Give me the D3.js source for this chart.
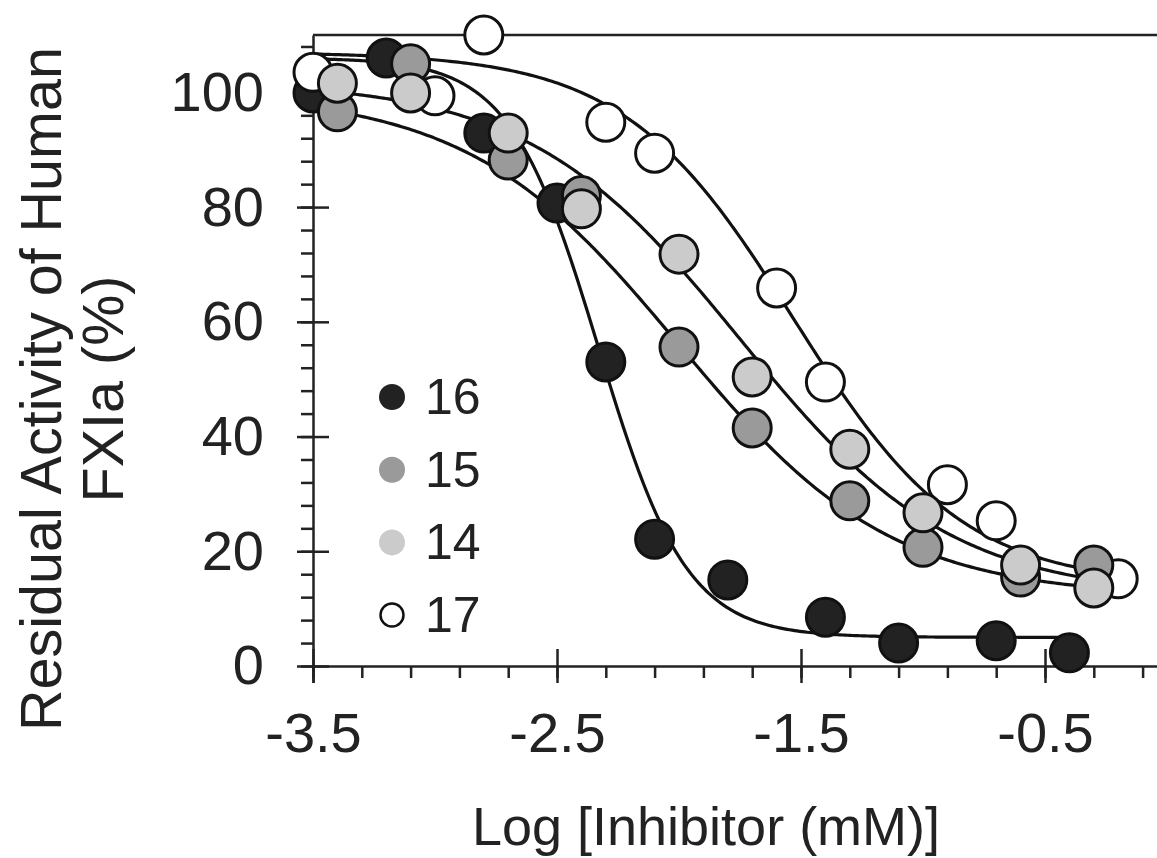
<!DOCTYPE html>
<html><head><meta charset="utf-8">
<script src="https://cdn.jsdelivr.net/npm/d3@7/dist/d3.min.js"></script>
<style>
html,body{margin:0;padding:0;background:#fff;}
svg{display:block;font-family:"Liberation Sans",Arial,Helvetica,sans-serif;}
</style></head>
<body>
<svg id="chart" width="1157" height="858"></svg>
<script>
// ---- data ----
const seriesNames = ["16", "15", "14", "17"];
const x16 = [-3.5, -3.2, -2.8, -2.5, -2.3, -2.1, -1.8, -1.4, -1.1, -0.7, -0.4];
const y16 = [99.9, 106, 92.9, 80.7, 53, 22.1, 15, 8.5, 4.0, 4.4, 2.3];
const x15 = [-3.4, -3.1, -2.7, -2.4, -2.0, -1.7, -1.3, -1.0, -0.6, -0.3];
const y15 = [96.6, 105, 88.2, 82, 55.6, 41.5, 28.8, 20.7, 15.5, 17.6];
const x14 = [-3.4, -3.1, -2.7, -2.4, -2.0, -1.7, -1.3, -1.0, -0.6, -0.3];
const y14 = [101.6, 99.9, 92.9, 79.7, 71.8, 50.4, 37.8, 26.7, 17.6, 13.6];
const x17 = [-3.5, -3.0, -2.8, -2.3, -2.1, -1.6, -1.4, -0.9, -0.7, -0.2];
const y17 = [103.5, 99.4, 110, 94.8, 89.4, 65.9, 49.5, 31.6, 25.3, 15.2];
// fitted logistic curves: [top, bottom, logIC50, hill]
const fit16 = [106, 5, -2.33, 2.4];
const fit15 = [100, 12, -2.0, 1.0];
const fit14 = [102, 12, -1.75, 1.0];
const fit17 = [107, 14, -1.53, 1.25];
const xTickLabels = [-3.5, -2.5, -1.5, -0.5];
const yTickLabels = [0, 20, 40, 60, 80, 100];
const xTitle = "Log [Inhibitor (mM)]";
const yTitle = ["Residual Activity of Human", "FXIa (%)"];

// ---- styles ----
const fills = {"16": "#222222", "15": "#9a9a9a", "14": "#cbcbcb", "17": "#ffffff"};
const svg = d3.select("#chart");
const x = d3.scaleLinear().domain([-3.5, 0]).range([313, 1167]);
const y = d3.scaleLinear().domain([0, 110]).range([666, 35]);
const ink = "#222";

const series = [
  {name: "16", xs: x16, ys: y16, fit: fit16},
  {name: "15", xs: x15, ys: y15, fit: fit15},
  {name: "14", xs: x14, ys: y14, fit: fit14},
  {name: "17", xs: x17, ys: y17, fit: fit17}
];

// frame top line
svg.append("line").attr("x1", x(-3.5)).attr("x2", x(0)).attr("y1", y(110)).attr("y2", y(110))
  .attr("stroke", ink).attr("stroke-width", 2.5);

// minor ticks
const xMinor = d3.range(0, 18).map(i => +(-3.5 + i * 0.2).toFixed(2));
const yMinor = d3.range(0, 28).map(i => i * 4);
const gxMinor = svg.append("g").attr("transform", `translate(0,${y(0)})`)
  .call(d3.axisBottom(x).tickValues(xMinor).tickSize(12).tickSizeOuter(0).tickFormat(""));
const gyMinor = svg.append("g").attr("transform", `translate(${x(-3.5)},0)`)
  .call(d3.axisLeft(y).tickValues(yMinor).tickSize(12).tickSizeOuter(0).tickFormat(""));
[gxMinor, gyMinor].forEach(g => {
  g.select(".domain").attr("stroke", ink).attr("stroke-width", 2.5);
  g.selectAll(".tick line").attr("stroke", ink).attr("stroke-width", 2.5);
});

// major ticks + labels
const fmtX = d => d.toFixed(1).replace("\u2212", "-");
const gx = svg.append("g").attr("transform", `translate(0,${y(0)})`)
  .call(d3.axisBottom(x).tickValues(xTickLabels).tickSize(17).tickPadding(29).tickFormat(fmtX));
gx.select(".domain").remove();
gx.selectAll(".tick line").attr("y1", -17).attr("stroke", ink).attr("stroke-width", 2.5);
gx.selectAll(".tick text").attr("font-size", 56).attr("fill", ink)
  .attr("font-family", "Liberation Sans, Arial, sans-serif");
// extra major at -3.5 (downward only)
svg.append("g").attr("transform", `translate(0,${y(0)})`)
  .call(d3.axisBottom(x).tickValues([-3.5]).tickSize(17).tickFormat(""))
  .call(g => { g.select(".domain").remove(); g.selectAll("line").attr("stroke", ink).attr("stroke-width", 2.5); });

const gy = svg.append("g").attr("transform", `translate(${x(-3.5)},0)`)
  .call(d3.axisLeft(y).tickValues(yTickLabels).tickSize(16).tickPadding(33).tickFormat(d => String(d)));
gy.select(".domain").remove();
gy.selectAll(".tick line").attr("x2", 16).attr("x1", -16).attr("stroke", ink).attr("stroke-width", 2.5);
gy.selectAll(".tick text").attr("font-size", 56).attr("fill", ink)
  .attr("font-family", "Liberation Sans, Arial, sans-serif");

// axis titles
svg.append("text").attr("x", 706).attr("y", 845).attr("text-anchor", "middle")
  .attr("font-size", 54).attr("fill", ink).text(xTitle);
const yt = svg.append("text").attr("transform", "translate(61,389) rotate(-90)")
  .attr("text-anchor", "middle").attr("font-size", 57.5).attr("fill", ink);
yt.append("tspan").attr("x", 0).attr("y", 0).text(yTitle[0]);
yt.append("tspan").attr("x", 0).attr("y", 62).text(yTitle[1]);

// curves
const logistic = (p, v) => p[1] + (p[0] - p[1]) / (1 + Math.pow(10, (v - p[2]) * p[3]));
const line = d3.line().x(d => x(d[0])).y(d => y(d[1])).curve(d3.curveLinear);
series.forEach(s => {
  const x0 = -3.5, x1 = d3.max(s.xs);
  const n = 300;
  const pts = d3.range(n + 1).map(i => { const v = x0 + (x1 - x0) * i / n; return [v, logistic(s.fit, v)]; });
  svg.append("path").attr("d", line(pts)).attr("fill", "none").attr("stroke", "#111").attr("stroke-width", 3.2);
});

// points (draw order: 16, 17, 15, 14)
const drawOrder = ["16", "17", "15", "14"];
drawOrder.forEach(name => {
  const s = series.find(t => t.name === name);
  svg.append("g").selectAll("circle").data(s.xs.map((v, i) => [v, s.ys[i]])).join("circle")
    .attr("cx", d => x(d[0])).attr("cy", d => y(d[1])).attr("r", 19)
    .attr("fill", fills[name]).attr("stroke", "#111").attr("stroke-width", 3);
});

// legend
const leg = svg.append("g");
seriesNames.forEach((name, i) => {
  const cy = 397 + i * 72.7;
  leg.append("circle").attr("cx", 392).attr("cy", cy).attr("r", name === "17" ? 11.5 : 13)
    .attr("fill", fills[name]).attr("stroke", name === "17" ? "#111" : "none").attr("stroke-width", 2.5);
  leg.append("text").attr("x", 425).attr("y", cy + 17).attr("font-size", 50).attr("fill", ink).text(name);
});
</script>
</body></html>
